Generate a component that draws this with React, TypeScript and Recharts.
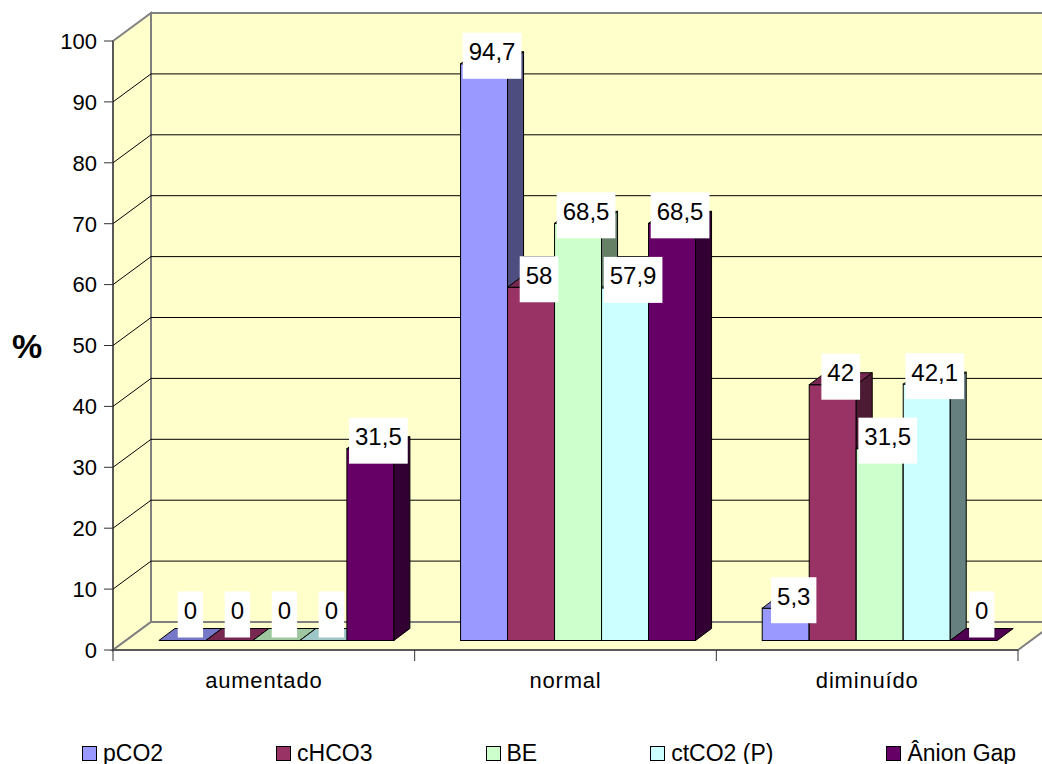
import React from 'react';
import { BarChart, Bar, XAxis, YAxis, CartesianGrid, Legend, LabelList } from 'recharts';

// Categories and series values (percent)
const categories = ['aumentado', 'normal', 'diminuído'];
const pCO2 = [0, 94.7, 5.3];
const cHCO3 = [0, 58, 42];
const baseExcess = [0, 68.5, 31.5];
const ctCO2 = [0, 57.9, 42.1];
const anionGap = [31.5, 68.5, 0];
const yTicks = [0, 10, 20, 30, 40, 50, 60, 70, 80, 90, 100];

const seriesKeys = ['pco2', 'chco3', 'be', 'ctco2', 'anion'];
const seriesNames = ['pCO2', 'cHCO3', 'BE', 'ctCO2 (P)', 'Ânion Gap'];
const seriesColors = ['#9999FF', '#993366', '#CCFFCC', '#CCFFFF', '#660066'];

const data = categories.map((category, i) => ({
  category,
  pco2: pCO2[i],
  chco3: cHCO3[i],
  be: baseExcess[i],
  ctco2: ctCO2[i],
  anion: anionGap[i],
}));

// 3D projection of the box: walls recede up and to the right
const WALL_DX = 38;
const WALL_DY = -28;
// columns sit partway into the depth
const BAR_FX = 11.5;
const BAR_FY = -9.5;
const BAR_DX = 16;
const BAR_DY = -12;

const WALL_FILL = '#FFFFCC';
const WALL_EDGE = '#808080';
const FONT = '"Liberation Sans", Arial, sans-serif';

function shade(hex: string, k: number): string {
  const n = parseInt(hex.slice(1), 16);
  const r = Math.round(((n >> 16) & 255) * k);
  const g = Math.round(((n >> 8) & 255) * k);
  const b = Math.round((n & 255) * k);
  return `rgb(${r},${g},${b})`;
}

// Back wall, left wall and floor, plus horizontal grid lines on the walls
const renderGridLine = (props: any) => {
  const { x1, x2, y1, index, horizontalPoints } = props;
  const pts: number[] = Array.isArray(horizontalPoints) ? horizontalPoints : [y1];
  const top = typeof props.y === 'number' ? props.y : Math.min(...pts);
  const bottom = typeof props.height === 'number' ? props.y + props.height : Math.max(...pts);
  const L = x1;
  const R = x2;
  const isEdge = Math.abs(y1 - top) < 0.5 || Math.abs(y1 - bottom) < 0.5;
  return (
    <g key={`grid-${index}`}>
      {index === 0 && (
        <g>
          <polygon
            points={`${L + WALL_DX},${top + WALL_DY} ${R + WALL_DX},${top + WALL_DY} ${R + WALL_DX},${bottom + WALL_DY} ${L + WALL_DX},${bottom + WALL_DY}`}
            fill={WALL_FILL}
            stroke={WALL_EDGE}
            strokeWidth={2}
          />
          <polygon
            points={`${L},${top} ${L + WALL_DX},${top + WALL_DY} ${L + WALL_DX},${bottom + WALL_DY} ${L},${bottom}`}
            fill={WALL_FILL}
            stroke={WALL_EDGE}
            strokeWidth={2}
          />
          <polygon
            points={`${L},${bottom} ${L + WALL_DX},${bottom + WALL_DY} ${R + WALL_DX},${bottom + WALL_DY} ${R},${bottom}`}
            fill={WALL_FILL}
            stroke={WALL_EDGE}
            strokeWidth={2}
          />
        </g>
      )}
      {!isEdge && (
        <g>
          <line x1={L} y1={y1} x2={L + WALL_DX} y2={y1 + WALL_DY} stroke="#000" strokeWidth={1} />
          <line x1={L + WALL_DX} y1={y1 + WALL_DY} x2={R + WALL_DX} y2={y1 + WALL_DY} stroke="#000" strokeWidth={1} />
        </g>
      )}
    </g>
  );
};

const Column3D = (props: any) => {
  const { x, y, width, height, color } = props;
  const X = x + BAR_FX;
  const Y = y + BAR_FY;
  const w = width;
  const h = Math.max(0, height || 0);
  const topPts = `${X},${Y} ${X + BAR_DX},${Y + BAR_DY} ${X + w + BAR_DX},${Y + BAR_DY} ${X + w},${Y}`;
  const sidePts = `${X + w},${Y} ${X + w + BAR_DX},${Y + BAR_DY} ${X + w + BAR_DX},${Y + h + BAR_DY} ${X + w},${Y + h}`;
  return (
    <g>
      {h > 0 && <rect x={X} y={Y} width={w} height={h} fill={color} stroke="#000" strokeWidth={1} />}
      {h > 0 && <polygon points={sidePts} fill={shade(color, 0.5)} stroke="#000" strokeWidth={1} />}
      <polygon points={topPts} fill={shade(color, 0.78)} stroke="#000" strokeWidth={1} />
    </g>
  );
};

const formatValue = (v: number) => String(v).replace('.', ',');

const LABEL_FONT = 24;

const ValueLabel = (props: any) => {
  const vb = props.viewBox && typeof props.viewBox.x === 'number' ? props.viewBox : props;
  const { x, y, width } = vb;
  const value = Number(props.value);
  const text = formatValue(value);
  let textW = 0;
  for (const ch of text) textW += (ch === ',' ? 0.278 : 0.556) * LABEL_FONT;
  const boxW = textW + 12;
  const boxH = 46;
  const cx = x + BAR_FX + width / 2 + 8;
  const top = y + BAR_FY;
  const cy = value === 0 ? top - 26 : top - 8;
  return (
    <g>
      <rect x={cx - boxW / 2} y={cy - boxH / 2} width={boxW} height={boxH} fill="#FFFFFF" />
      <text x={cx} y={cy - 4} textAnchor="middle" dominantBaseline="central" fontSize={LABEL_FONT} fill="#000" fontFamily={FONT}>
        {text}
      </text>
    </g>
  );
};

const CategoryTick = (props: any) => {
  const { x, y, payload, index, width } = props;
  const band = (typeof width === 'number' ? width : 905) / categories.length;
  const left = x - band / 2;
  const right = x + band / 2;
  return (
    <g>
      <line x1={left} y1={y} x2={left} y2={y + 11} stroke="#333" strokeWidth={1} />
      {index === categories.length - 1 && (
        <line x1={right} y1={y} x2={right} y2={y + 11} stroke="#333" strokeWidth={1} />
      )}
      <text x={x} y={y + 38} textAnchor="middle" fontSize={22} letterSpacing={0.8} fill="#000" fontFamily={FONT}>
        {payload.value}
      </text>
    </g>
  );
};

const PercentLabel = (props: any) => {
  const vb = props.viewBox || { x: 43, y: 41, width: 70, height: 609 };
  return (
    <text
      x={vb.x - 16}
      y={vb.y + vb.height / 2}
      textAnchor="middle"
      dominantBaseline="central"
      fontSize={34}
      fontWeight="bold"
      fill="#000"
      fontFamily={FONT}
    >
      %
    </text>
  );
};

const renderLegend = () => (
  <div
    style={{
      display: 'flex',
      alignItems: 'center',
      height: 30,
      paddingLeft: 82,
      gap: 113,
      fontSize: 23,
      lineHeight: '30px',
      color: '#000',
      whiteSpace: 'nowrap',
      fontFamily: FONT,
    }}
  >
    {seriesNames.map((name, i) => (
      <div key={name} style={{ display: 'flex', alignItems: 'center' }}>
        <span
          style={{
            display: 'inline-block',
            width: 15,
            height: 15,
            boxSizing: 'border-box',
            border: '1px solid #000',
            background: seriesColors[i],
            marginRight: 6,
          }}
        />
        <span>{name}</span>
      </div>
    ))}
  </div>
);

export default function App() {
  return (
    <div style={{ position: 'absolute', left: 0, top: 0, background: '#fff', fontFamily: FONT }}>
      <BarChart
        width={1042}
        height={764}
        data={data}
        margin={{ top: 41, right: 24, left: 43, bottom: 44 }}
        barCategoryGap="11.4%"
        barGap={0}
      >
        <CartesianGrid horizontal={renderGridLine} vertical={false} stroke="#000" />
        <XAxis
          dataKey="category"
          height={40}
          tickSize={0}
          tickMargin={0}
          tickLine={false}
          interval={0}
          axisLine={{ stroke: '#333', strokeWidth: 1 }}
          tick={CategoryTick}
        />
        <YAxis
          type="number"
          domain={[0, 100]}
          ticks={yTicks}
          interval={0}
          width={70}
          tickSize={9}
          tickMargin={7}
          axisLine={{ stroke: '#333', strokeWidth: 1 }}
          tickLine={{ stroke: '#333', strokeWidth: 1 }}
          tick={{ fontSize: 22, fill: '#000', fontFamily: FONT }}
          label={PercentLabel}
        />
        <Legend content={renderLegend} wrapperStyle={{ left: 0, top: 738, bottom: 'auto', width: 1042, height: 30 }} />
        {seriesKeys.map((key, i) => (
          <Bar
            key={key}
            dataKey={key}
            name={seriesNames[i]}
            fill={seriesColors[i]}
            isAnimationActive={false}
            shape={(p: any) => <Column3D {...p} color={seriesColors[i]} />}
          >
            <LabelList dataKey={key} content={ValueLabel} />
          </Bar>
        ))}
      </BarChart>
    </div>
  );
}
